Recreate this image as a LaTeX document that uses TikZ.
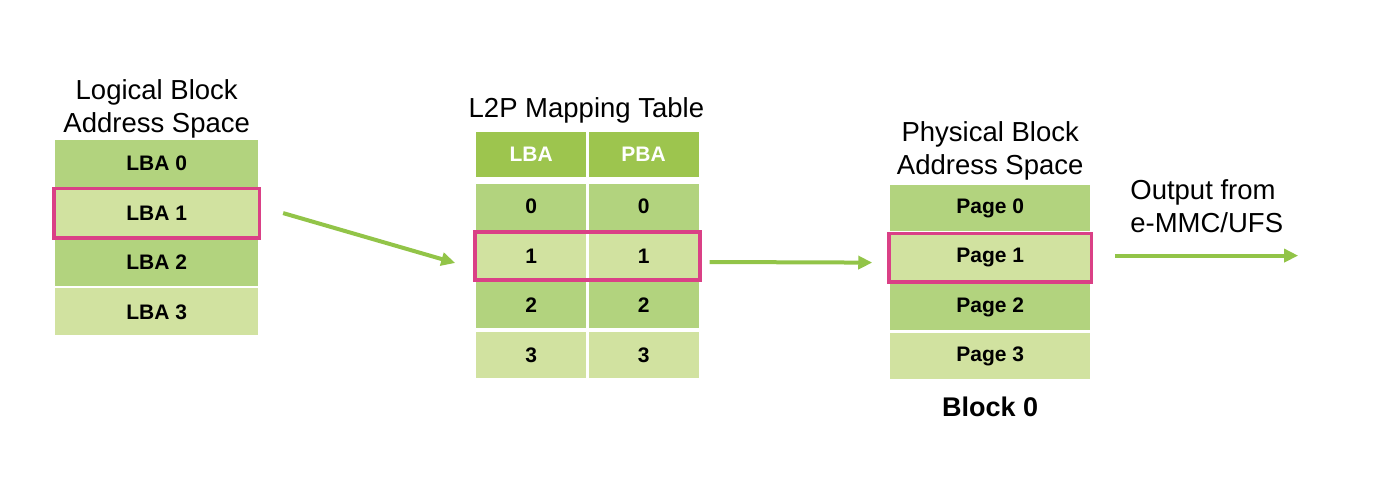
\documentclass[tikz,border=0pt]{standalone}
\usepackage{fontspec}
\setmainfont{Liberation Sans}
\usepackage{xcolor}
\usepackage{tikz}
\usetikzlibrary{positioning,arrows.meta,calc,fit}
\definecolor{gHead}{RGB}{157,197,78}
\definecolor{gDark}{RGB}{178,211,126}
\definecolor{gLight}{RGB}{209,226,160}
\definecolor{gArrow}{RGB}{146,196,72}
\definecolor{hPink}{RGB}{218,64,134}
\tikzset{
  cell/.style={rectangle, fill=gDark, inner sep=0pt, minimum width=203pt,
               minimum height=47pt, font=\fontsize{21}{24}\selectfont\bfseries},
  lcell/.style={cell, fill=gLight},
  tcell/.style={cell, minimum width=110pt, minimum height=46pt},
  tlcell/.style={tcell, fill=gLight},
  thead/.style={tcell, fill=gHead, minimum height=45pt, text=white},
  pcell/.style={cell, minimum width=200pt, minimum height=46pt},
  plcell/.style={pcell, fill=gLight},
  hl/.style={rectangle, draw=hPink, line width=3.5pt, inner sep=1pt},
  ttl/.style={font=\fontsize{27.5}{32.5}\selectfont, align=center, inner sep=0pt},
  flow/.style={-{Triangle[length=14pt,width=13pt]}, draw=gArrow, line width=4pt},
}

\begin{document}
\begin{tikzpicture}[x=1pt,y=-1pt,node distance=2pt]
  \useasboundingbox (0,0) rectangle (1390,490);
  % logical block address space
  \node[cell, anchor=north west] (l0) at (55,140) {LBA 0};
  \node[lcell, below=of l0] (l1) {LBA 1};
  \node[cell, below=of l1] (l2) {LBA 2};
  \node[lcell, below=of l2] (l3) {LBA 3};
  \node[ttl, above=2pt of l0] (ltitle) {Logical Block\\Address Space};
  \node[hl, fit=(l1)] (lhl) {};
  % l2p mapping table
  \node[thead, anchor=north west] (ha) at (476,132) {LBA};
  \node[thead, right=2pt of ha] (hb) {PBA};
  \node[tcell, below=6pt of ha] (t0a) {0};
  \node[tcell, below=6pt of hb] (t0b) {0};
  \node[tlcell, below=3pt of t0a] (t1a) {1};
  \node[tlcell, below=3pt of t0b] (t1b) {1};
  \node[tcell, below=3pt of t1a] (t2a) {2};
  \node[tcell, below=3pt of t1b] (t2b) {2};
  \node[tlcell, below=3pt of t2a] (t3a) {3};
  \node[tlcell, below=3pt of t2b] (t3b) {3};
  \node[ttl, above=9pt of ha.north east] (ttitle) {L2P Mapping Table};
  \node[hl, fit=(t1a)(t1b)] (thl) {};
  % physical block address space
  \node[pcell, anchor=north west] (p0) at (890,185) {Page 0};
  \node[plcell, below=3pt of p0] (p1) {Page 1};
  \node[pcell, below=3pt of p1] (p2) {Page 2};
  \node[plcell, below=3pt of p2] (p3) {Page 3};
  \node[ttl, above=5pt of p0] (ptitle) {Physical Block\\Address Space};
  \node[ttl, font=\fontsize{27}{32}\selectfont\bfseries, below=17pt of p3] (blk) {Block 0};
  \node[hl, fit=(p1)] (phl) {};
  % output
  \coordinate (ostart) at ([xshift=22pt,yshift=2pt]phl.east);
  \coordinate (out) at ([xshift=205pt,yshift=2pt]phl.east);
  \node[ttl, align=left, anchor=south west] (olbl) at ([xshift=15pt,yshift=23pt]ostart) {Output from\\e-MMC/UFS};
  % arrows
  \draw[flow] ([xshift=22pt]lhl.east) -- ([xshift=-18pt,yshift=-7pt]thl.west);
  \draw[flow] ([xshift=8pt,yshift=-6pt]thl.east) -- ([xshift=-15pt,yshift=-5pt]phl.west);
  \draw[flow] (ostart) -- (out);
\end{tikzpicture}
\end{document}
